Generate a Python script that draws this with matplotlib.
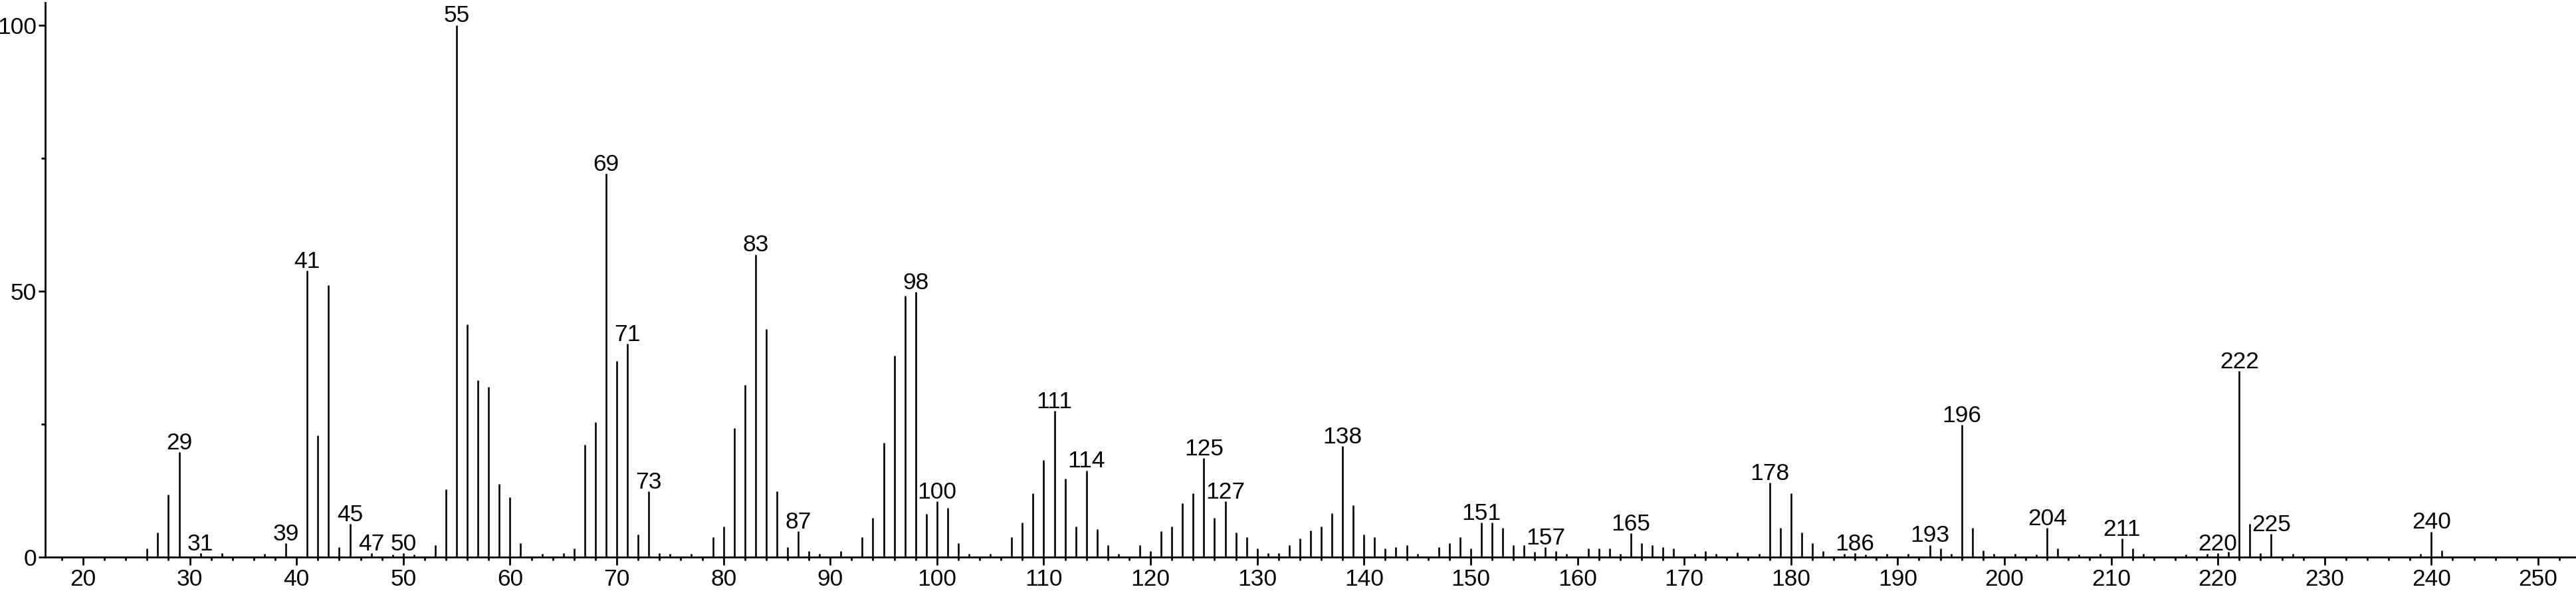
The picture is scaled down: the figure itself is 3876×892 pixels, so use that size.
import matplotlib
matplotlib.use('Agg')
import matplotlib.pyplot as plt
from matplotlib.ticker import MultipleLocator, FixedLocator

# m/z values and relative intensities
mz = [26, 27, 28, 29, 31, 33, 37, 39, 41, 42, 43, 44, 45, 47, 49, 50, 51, 53, 54, 55,
      56, 57, 58, 59, 60, 61, 63, 65, 66, 67, 68, 69, 70, 71, 72, 73, 74, 75, 77, 79,
      80, 81, 82, 83, 84, 85, 86, 87, 88, 89, 91, 93, 94, 95, 96, 97, 98, 99, 100, 101,
      102, 103, 105, 107, 108, 109, 110, 111, 112, 113, 114, 115, 116, 117, 119, 120, 121, 122, 123, 124,
      125, 126, 127, 128, 129, 130, 131, 132, 133, 134, 135, 136, 137, 138, 139, 140, 141, 142, 143, 144,
      145, 147, 148, 149, 150, 151, 152, 153, 154, 155, 156, 157, 158, 159, 161, 162, 163, 164, 165, 166,
      167, 168, 169, 171, 172, 173, 175, 177, 178, 179, 180, 181, 182, 183, 185, 186, 187, 189, 191, 193,
      194, 195, 196, 197, 198, 199, 201, 203, 204, 205, 207, 209, 211, 212, 213, 217, 219, 220, 221, 222,
      223, 224, 225, 227, 239, 240, 241]
intensity = [1.6, 4.6, 11.7, 19.7, 0.7, 0.7, 0.6, 2.6, 53.8, 22.9, 51.1, 1.9, 6.2, 0.7, 0.5, 0.7, 0.5, 2.3, 12.8, 100.0,
             43.7, 33.2, 32.0, 13.7, 11.3, 2.6, 0.6, 0.7, 1.6, 21.1, 25.4, 72.1, 36.8, 40.1, 4.3, 12.4, 0.8, 0.6, 0.6, 3.8,
             5.8, 24.2, 32.3, 56.9, 42.8, 12.4, 1.9, 4.9, 1.1, 0.6, 1.1, 3.8, 7.4, 21.5, 37.8, 49.1, 49.8, 8.1, 10.5, 9.2,
             2.6, 0.6, 0.6, 3.8, 6.5, 12.0, 18.3, 27.5, 14.7, 5.8, 16.3, 5.3, 2.3, 0.6, 2.3, 1.1, 4.9, 5.8, 10.1, 12.0,
             18.6, 7.4, 10.5, 4.6, 3.8, 1.6, 0.75, 0.75, 2.3, 3.5, 5.0, 5.8, 8.2, 20.9, 9.7, 4.2, 3.8, 1.6, 1.9, 2.3,
             0.6, 1.9, 2.6, 3.8, 1.6, 6.5, 6.5, 5.5, 2.3, 2.3, 1.0, 1.9, 1.1, 0.6, 1.6, 1.6, 1.6, 0.6, 4.5, 2.6,
             2.3, 1.9, 1.6, 0.6, 1.1, 0.6, 0.9, 0.6, 14.0, 5.5, 12.0, 4.6, 2.6, 1.1, 0.6, 0.7, 0.5, 0.6, 0.6, 2.3,
             1.6, 0.6, 24.8, 5.5, 1.2, 0.6, 0.6, 0.5, 5.5, 1.6, 0.5, 0.6, 3.5, 1.6, 0.6, 0.5, 0.6, 0.7, 1.0, 35.0,
             6.2, 0.8, 4.4, 0.6, 0.6, 4.8, 1.2]

# peaks that carry a m/z label
labelled = [29, 31, 39, 41, 45, 47, 50, 55, 69, 71, 73, 83, 87, 98, 100, 111, 114, 125, 127,
            138, 151, 157, 165, 178, 186, 193, 196, 204, 211, 220, 222, 225, 240]

plt.rcParams['font.family'] = ['Liberation Sans', 'DejaVu Sans']
fsize = 25.5

fig = plt.figure(figsize=(38.76, 8.92), dpi=100)
ax = fig.add_axes([0.01754, 0.06054, 0.98246, 0.935])

ax.vlines(mz, 0, intensity, colors='black', linewidth=1.9)

peaks = dict(zip(mz, intensity))
for m in labelled:
    ax.annotate(str(m), (m, peaks[m]), xytext=(0, 3), textcoords='offset points',
                ha='center', va='baseline', fontsize=fsize)

ax.set_xlim(16.45, 253.55)
ax.set_ylim(0, 104.2)

ax.spines['top'].set_visible(False)
ax.spines['right'].set_visible(False)
ax.spines['left'].set_linewidth(2)
ax.spines['bottom'].set_linewidth(2)

ax.xaxis.set_major_locator(FixedLocator(range(20, 251, 10)))
ax.xaxis.set_minor_locator(MultipleLocator(2))
ax.yaxis.set_major_locator(FixedLocator([0, 50, 100]))
ax.yaxis.set_minor_locator(FixedLocator([25, 75]))

ax.tick_params(axis='x', which='major', direction='out', length=8.6, width=2, labelsize=fsize, pad=4)
ax.tick_params(axis='x', which='minor', direction='out', length=3.6, width=2)
ax.tick_params(axis='y', which='major', direction='out', length=7.2, width=2, labelsize=fsize, pad=2)
ax.tick_params(axis='y', which='minor', direction='out', length=4, width=2)

fig.savefig('out.png', dpi=100)
